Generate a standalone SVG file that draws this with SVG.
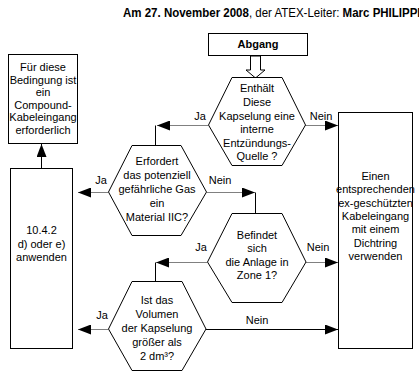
<svg xmlns="http://www.w3.org/2000/svg" width="419" height="374" viewBox="0 0 419 374">
<defs>
<style>
.t{font-family:"Liberation Sans",Arial,sans-serif;font-size:11px;fill:#000;text-anchor:middle}
.b{font-weight:bold}
.box{fill:#fff;stroke:#000;stroke-width:1}
.hex{fill:#fff;stroke:#000;stroke-width:1}
.g{fill:none;stroke:#808080;stroke-width:1}
.k{fill:none;stroke:#000;stroke-width:1}
</style>
<marker id="ah" markerUnits="userSpaceOnUse" markerWidth="14" markerHeight="10" refX="13" refY="5" orient="auto">
<path d="M0,0 L13,5 L0,10 z" fill="#000"/>
</marker>
</defs>
<rect width="419" height="374" fill="#fff"/>
<text transform="translate(123,17) scale(0.885,1)" style="font-family:'Liberation Sans',Arial,sans-serif;font-size:13px;fill:#000"><tspan font-weight="bold">Am 27. November 2008</tspan>, der ATEX-Leiter: <tspan font-weight="bold">Marc PHILIPPI</tspan></text>

<g id="connectors">
<polygon points="250.5,56 260.5,56 260.5,70 265,70 255.5,78 246,70 250.5,70" fill="#fff" stroke="#000" stroke-width="1"/>
<line class="g" x1="208" y1="125.5" x2="157" y2="125.5" marker-end="url(#ah)"/>
<line class="k" x1="155.5" y1="125.5" x2="155.5" y2="145"/>
<line class="g" x1="305" y1="125.5" x2="338" y2="125.5" marker-end="url(#ah)"/>
<line class="k" x1="41.5" y1="168" x2="41.5" y2="144" marker-end="url(#ah)"/>
<line class="g" x1="108" y1="192.5" x2="78" y2="192.5" marker-end="url(#ah)"/>
<line class="g" x1="207" y1="192.5" x2="255" y2="192.5" marker-end="url(#ah)"/>
<line class="k" x1="255.5" y1="192.5" x2="255.5" y2="213"/>
<line class="g" x1="207" y1="262.5" x2="156" y2="262.5" marker-end="url(#ah)"/>
<line class="k" x1="155.5" y1="262.5" x2="155.5" y2="281"/>
<line class="g" x1="306" y1="262.5" x2="338" y2="262.5" marker-end="url(#ah)"/>
<line class="g" x1="108" y1="329.5" x2="78" y2="329.5" marker-end="url(#ah)"/>
<line class="k" x1="206" y1="329.5" x2="338" y2="329.5" marker-end="url(#ah)" stroke="#333"/>
<text class="t" x="200" y="120">Ja</text>
<text class="t" x="321" y="120">Nein</text>
<text class="t" x="101" y="184">Ja</text>
<text class="t" x="220" y="184">Nein</text>
<text class="t" x="201" y="251">Ja</text>
<text class="t" x="318" y="251">Nein</text>
<text class="t" x="102" y="319">Ja</text>
<text class="t" x="257" y="324">Nein</text>
</g>

<g id="abgang">
<rect class="box" x="208.5" y="33.5" width="99" height="22"/>
<text class="t b" x="258" y="48">Abgang</text>
</g>

<g id="q1">
<polygon class="hex" points="232,77.5 282,77.5 305.5,125 282,165.5 232,165.5 208.5,125"/>
<text class="t" x="257" y="92">Enthält</text>
<text class="t" x="257" y="105.5">Diese</text>
<text class="t" x="257" y="119.5">Kapselung eine</text>
<text class="t" x="257" y="133">interne</text>
<text class="t" x="257" y="146.5">Entzündungs-</text>
<text class="t" x="257" y="160">Quelle ?</text>
</g>

<g id="compound">
<rect class="box" x="8.5" y="54.5" width="69" height="89"/>
<text class="t" x="43" y="71">Für diese</text>
<text class="t" x="43" y="83.5">Bedingung ist</text>
<text class="t" x="43" y="96">ein</text>
<text class="t" x="43" y="108.5">Compound-</text>
<text class="t" x="43" y="121">Kabeleingang</text>
<text class="t" x="43" y="133.5">erforderlich</text>
</g>

<g id="apply">
<rect class="box" x="10.5" y="168.5" width="62" height="180"/>
<text class="t" x="41.5" y="234">10.4.2</text>
<text class="t" x="41.5" y="248">d) oder e)</text>
<text class="t" x="41.5" y="261">anwenden</text>
</g>

<g id="q2">
<polygon class="hex" points="132,145.5 181,145.5 206.5,192 181,235.5 132,235.5 108.5,192"/>
<text class="t" x="157" y="165">Erfordert</text>
<text class="t" x="157" y="179">das potenziell</text>
<text class="t" x="157" y="193">gefährliche Gas</text>
<text class="t" x="157" y="207">ein</text>
<text class="t" x="157" y="221">Material IIC?</text>
</g>

<g id="q3">
<polygon class="hex" points="232,213.5 282,213.5 306,262 282,302.5 232,302.5 207.5,262"/>
<text class="t" x="257" y="239">Befindet</text>
<text class="t" x="257" y="252">sich</text>
<text class="t" x="257" y="265.5">die Anlage in</text>
<text class="t" x="257" y="279">Zone 1?</text>
</g>

<g id="q4">
<polygon class="hex" points="132,281.5 182,281.5 206,329 182,370.5 132,370.5 108.5,329"/>
<text class="t" x="157" y="304">Ist das</text>
<text class="t" x="157" y="318">Volumen</text>
<text class="t" x="157" y="332">der Kapselung</text>
<text class="t" x="157" y="346">größer als</text>
<text class="t" x="157" y="360">2 dm³?</text>
</g>

<g id="cable">
<rect class="box" x="338.5" y="112.5" width="74" height="236"/>
<text class="t" x="375.5" y="180">Einen</text>
<text class="t" x="375.5" y="193">entsprechenden</text>
<text class="t" x="375.5" y="206.5">ex-geschützten</text>
<text class="t" x="375.5" y="220">Kabeleingang</text>
<text class="t" x="375.5" y="233">mit einem</text>
<text class="t" x="375.5" y="246.5">Dichtring</text>
<text class="t" x="375.5" y="260">verwenden</text>
</g>
</svg>
